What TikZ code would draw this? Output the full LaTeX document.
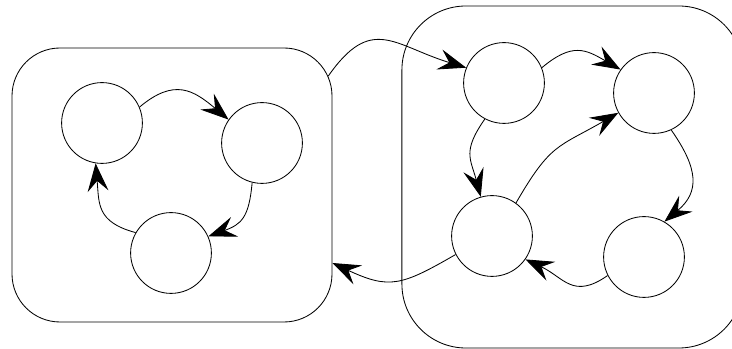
\documentclass[tikz,border=0pt]{standalone}
\usetikzlibrary{arrows.meta,calc}

\begin{document}
\begin{tikzpicture}
    \tikzset{state/.style={circle,draw,minimum size=2.02cm,inner sep=0pt,line width=0.6pt},
             group/.style={draw,inner sep=0pt,line width=0.6pt},
             link/.style={-{Stealth[length=7mm,width=5.2mm,inset=2.6mm]},line width=0.6pt,looseness=1.3}}
    \useasboundingbox (0,0) rectangle (18.3,8.725);
    % the two groups
    \node[group,rounded corners=1.2cm,minimum width=8cm,minimum height=6.85cm] (leftbox) at (4.3,4.1) {};
    \node[group,rounded corners=1.6cm,minimum width=8.525cm,minimum height=8.55cm] (rightbox) at (14.31,4.3) {};
    % states
    \node[state] (c1) at (2.55,5.65) {};
    \node[state] (c2) at (6.55,5.15) {};
    \node[state] (c3) at (4.275,2.4) {};
    \node[state] (r1) at (12.6,6.65) {};
    \node[state] (r2) at (16.35,6.4) {};
    \node[state] (r3) at (12.3,2.825) {};
    \node[state] (r4) at (16.1,2.3) {};
    \coordinate (exitL) at ($(leftbox.north east)+(-1.2,-1.2)+(24:1.2)$);
    \coordinate (enterL) at ($(leftbox.east)+(0,-1.95)$);
    % links
    \draw[link] (c1.23) to[out=40,in=140] (c2.145);
    \draw[link] (c2.256) to[out=-95,in=20] (c3.24);
    \draw[link] (c3.150) to[out=165,in=-85] (c1.261);
    \draw[link] (exitL) to[out=55,in=163,looseness=1.4] (r1.158);
    \draw[link] (r1.22) to[out=40,in=150] (r2.145);
    \draw[link] (r1.242) to[out=-125,in=105] (r3.106);
    \draw[link] (r3.54) to[out=60,in=-150] (r2.209);
    \draw[link] (r2.-65) to[out=-55,in=40] (r4.60);
    \draw[link] (r4.207) to[out=-145,in=-25] (r3.-35);
    \draw[link] (r3.207) to[out=-150,in=-25] (enterL);
\end{tikzpicture}
\end{document}
